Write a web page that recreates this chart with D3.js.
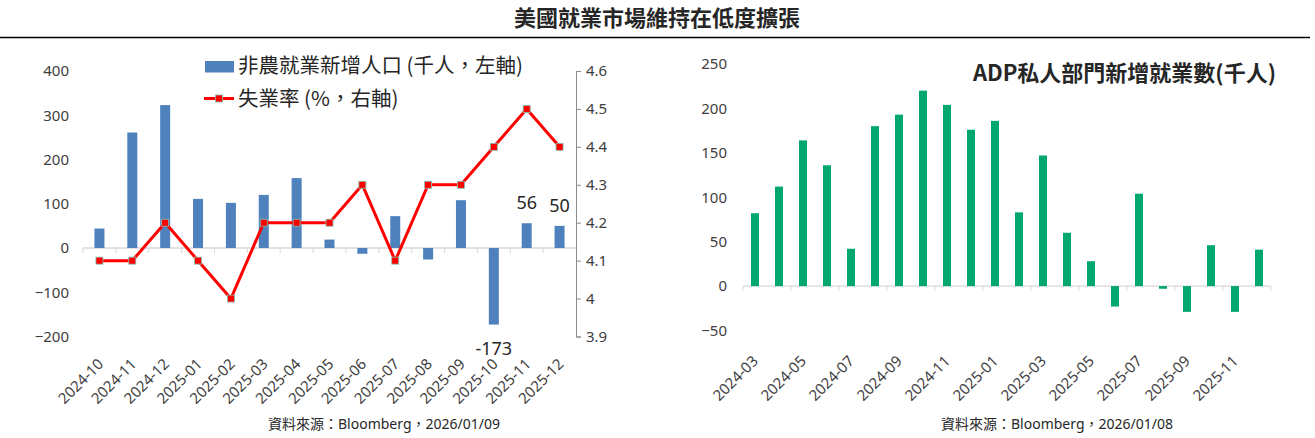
<!DOCTYPE html>
<html lang="zh-Hant">
<head>
<meta charset="utf-8">
<title>美國就業市場維持在低度擴張</title>
<script src="https://cdn.jsdelivr.net/npm/d3@7"></script>
<style>
    body { margin: 0; background: #fff; }
    svg text { font-family: "Noto Sans", "Noto Sans CJK TC", sans-serif; fill: #262626; }
    .tick text { fill: #404040; }
    .cjk { font-family: "Noto Sans CJK TC", sans-serif; }
</style>
</head>
<body>
<svg width="1315" height="438" id="mainsvg"></svg>
<script>
    // 非農就業新增人口 (千人) 與 失業率 (%)
    const nfpMonths = ['2024-10', '2024-11', '2024-12', '2025-01', '2025-02', '2025-03', '2025-04', '2025-05',
        '2025-06', '2025-07', '2025-08', '2025-09', '2025-10', '2025-11', '2025-12'];
    const nfpValues = [44, 261, 323, 111, 102, 120, 158, 19, -13, 72, -26, 108, -173, 56, 50];
    const unempRate = [4.1, 4.1, 4.2, 4.1, 4.0, 4.2, 4.2, 4.2, 4.3, 4.1, 4.3, 4.3, 4.4, 4.5, 4.4];
    const nfpTicks = [-200, -100, 0, 100, 200, 300, 400];
    const rateTicks = [3.9, 4.0, 4.1, 4.2, 4.3, 4.4, 4.5, 4.6];
    const labelledMonths = ['2025-10', '2025-11', '2025-12'];

    // ADP私人部門新增就業數 (千人)
    const adpMonths = ['2024-03', '2024-04', '2024-05', '2024-06', '2024-07', '2024-08', '2024-09', '2024-10',
        '2024-11', '2024-12', '2025-01', '2025-02', '2025-03', '2025-04', '2025-05', '2025-06', '2025-07',
        '2025-08', '2025-09', '2025-10', '2025-11', '2025-12'];
    const adpValues = [82, 112, 164, 136, 42, 180, 193, 220, 204, 176, 186, 83, 147, 60, 28, -23, 104, -3, -29, 46, -29, 41];
    const adpTicks = [-50, 0, 50, 100, 150, 200, 250];

    const svg = d3.select('#mainsvg');
    const gridColor = '#d9d9d9';

    // title
    svg.append('text').attr('class', 'cjk').attr('x', 657).attr('y', 26).attr('text-anchor', 'middle')
        .attr('font-size', '22px').attr('font-weight', 'bold').text('美國就業市場維持在低度擴張');
    svg.append('line').attr('x1', 0).attr('x2', 1310).attr('y1', 37.5).attr('y2', 37.5)
        .attr('stroke', '#000').attr('stroke-width', 1.3);

    // ---------- left chart ----------
    const xL = d3.scaleBand().domain(nfpMonths).range([83, 576]).padding(0);
    const yL = d3.scaleLinear().domain([-200, 400]).range([336.5, 71]);
    const yR = d3.scaleLinear().domain([3.9, 4.6]).range([336.5, 71]);
    const left = svg.append('g');

    const yAxisL = d3.axisLeft(yL).tickValues(nfpTicks).tickSize(0).tickPadding(0);
    left.append('g').attr('transform', 'translate(69,0)').call(yAxisL)
        .call(g => g.select('.domain').remove());

    const yAxisR = d3.axisRight(yR).tickValues(rateTicks).tickSizeOuter(0).tickSize(5).tickPadding(5)
        .tickFormat(d => String(+d.toFixed(1)));
    left.append('g').attr('transform', 'translate(576,0)').call(yAxisR)
        .call(g => g.selectAll('.domain, .tick line').attr('stroke', '#8c8c8c'));

    // zero line with category boundary ticks
    left.append('line').attr('x1', xL.range()[0]).attr('x2', xL.range()[1])
        .attr('y1', yL(0)).attr('y2', yL(0)).attr('stroke', gridColor).attr('stroke-width', 1.3);
    left.selectAll('.bound').data(nfpMonths).enter().append('line').attr('class', 'bound')
        .attr('x1', d => xL(d)).attr('x2', d => xL(d))
        .attr('y1', yL(0)).attr('y2', yL(0) + 5).attr('stroke', gridColor);

    const barW = 10;
    left.selectAll('.nfp').data(nfpValues).enter().append('rect').attr('class', 'nfp')
        .attr('x', (d, i) => xL(nfpMonths[i]) + xL.bandwidth() / 2 - barW / 2)
        .attr('y', d => yL(Math.max(0, d)))
        .attr('width', barW)
        .attr('height', d => Math.abs(yL(d) - yL(0)))
        .attr('fill', '#4f81bd');

    // data labels
    left.selectAll('.dlabel').data(nfpValues.filter((d, i) => labelledMonths.includes(nfpMonths[i])))
        .enter().append('text').attr('class', 'dlabel')
        .attr('x', (d, i) => xL(labelledMonths[i]) + xL.bandwidth() / 2)
        .attr('y', d => d >= 0 ? yL(d) - 14 : yL(d) + 30)
        .attr('text-anchor', 'middle').attr('font-size', '18px').text(d => d);

    // unemployment line
    const line = d3.line().x((d, i) => xL(nfpMonths[i]) + xL.bandwidth() / 2).y(d => yR(d));
    left.append('path').datum(unempRate).attr('d', line).attr('fill', 'none')
        .attr('stroke', '#ff0000').attr('stroke-width', 3).attr('stroke-linejoin', 'round');
    left.selectAll('.mark').data(unempRate).enter().append('rect').attr('class', 'mark')
        .attr('x', (d, i) => xL(nfpMonths[i]) + xL.bandwidth() / 2 - 3.5)
        .attr('y', d => yR(d) - 3.5).attr('width', 7).attr('height', 7)
        .attr('fill', '#ff0000').attr('stroke', '#7fc3b3').attr('stroke-width', 0.8);

    // x labels
    const xAxisL = d3.axisBottom(xL).tickSize(0).tickPadding(0);
    left.append('g').attr('transform', 'translate(5,365)').call(xAxisL)
        .call(g => g.select('.domain').remove())
        .selectAll('text').attr('text-anchor', 'end')
        .attr('dy', 0).attr('transform', 'rotate(-45)');

    // legend
    const legend = left.append('g');
    legend.append('rect').attr('x', 205).attr('y', 61).attr('width', 29).attr('height', 11.5).attr('fill', '#4f81bd');
    legend.append('text').attr('class', 'cjk').attr('x', 238).attr('y', 73).attr('font-size', '20.5px').text('非農就業新增人口 (千人，左軸)');
    legend.append('line').attr('x1', 204).attr('x2', 234).attr('y1', 98.5).attr('y2', 98.5)
        .attr('stroke', '#ff0000').attr('stroke-width', 3);
    legend.append('rect').attr('x', 215.5).attr('y', 95).attr('width', 7).attr('height', 7)
        .attr('fill', '#ff0000').attr('stroke', '#7fc3b3').attr('stroke-width', 0.8);
    legend.append('text').attr('class', 'cjk').attr('x', 238).attr('y', 106).attr('font-size', '20.5px').text('失業率 (%，右軸)');

    svg.append('text').attr('x', 384).attr('y', 429).attr('text-anchor', 'middle').attr('font-size', '14px')
        .text('資料來源：Bloomberg，2026/01/09');

    // ---------- right chart ----------
    const xA = d3.scaleBand().domain(adpMonths).range([743, 1271]).padding(0);
    const yA = d3.scaleLinear().domain([-50, 250]).range([330.5, 64]);
    const right = svg.append('g');

    const yAxisA = d3.axisLeft(yA).tickValues(adpTicks).tickSize(0).tickPadding(0);
    right.append('g').attr('transform', 'translate(727,0)').call(yAxisA)
        .call(g => g.select('.domain').remove());

    right.append('line').attr('x1', xA.range()[0]).attr('x2', xA.range()[1])
        .attr('y1', yA(0)).attr('y2', yA(0)).attr('stroke', gridColor).attr('stroke-width', 1.3);
    const bounds = adpMonths.filter((d, i) => i % 2 === 0).map(d => xA(d)).concat([xA.range()[1]]);
    right.selectAll('.bound').data(bounds).enter().append('line').attr('class', 'bound')
        .attr('x1', d => d).attr('x2', d => d)
        .attr('y1', yA(0)).attr('y2', yA(0) + 5).attr('stroke', gridColor);

    const barA = 8;
    right.selectAll('.adp').data(adpValues).enter().append('rect').attr('class', 'adp')
        .attr('x', (d, i) => xA(adpMonths[i]) + xA.bandwidth() / 2 - barA / 2)
        .attr('y', d => yA(Math.max(0, d)))
        .attr('width', barA)
        .attr('height', d => Math.abs(yA(d) - yA(0)))
        .attr('fill', '#00a870');

    const xAxisA = d3.axisBottom(xA).tickValues(adpMonths.filter((d, i) => i % 2 === 0)).tickSize(0).tickPadding(0);
    right.append('g').attr('transform', 'translate(4,362)').call(xAxisA)
        .call(g => g.select('.domain').remove())
        .selectAll('text').attr('text-anchor', 'end')
        .attr('dy', 0).attr('transform', 'rotate(-45)');

    right.append('text').attr('class', 'cjk').attr('x', 1276).attr('y', 81).attr('text-anchor', 'end')
        .attr('font-size', '22px').attr('font-weight', 'bold').text('ADP私人部門新增就業數(千人)');

    svg.append('text').attr('x', 1057).attr('y', 429).attr('text-anchor', 'middle').attr('font-size', '14px')
        .text('資料來源：Bloomberg，2026/01/08');

    d3.selectAll('.tick text').attr('font-size', '15px');
</script>
</body>
</html>
